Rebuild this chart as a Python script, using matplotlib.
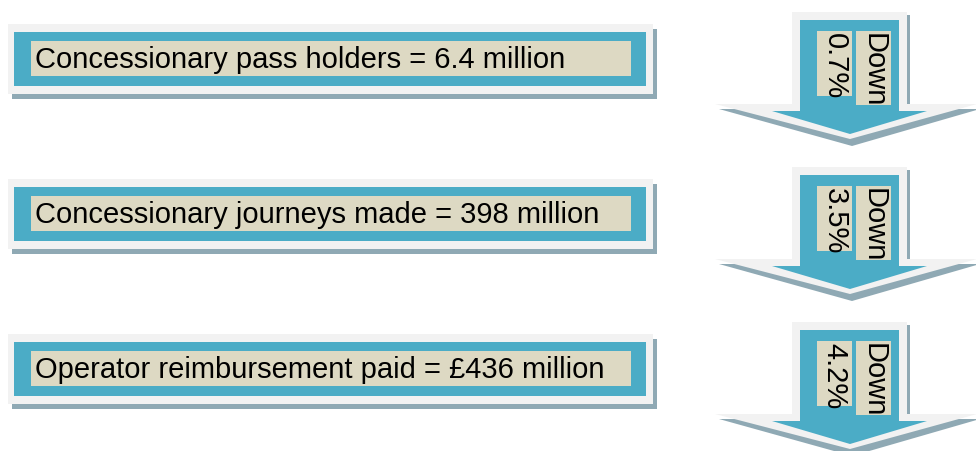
import matplotlib.pyplot as plt
from matplotlib.patches import Rectangle, Polygon

plt.rcParams['font.family'] = ['Liberation Sans', 'DejaVu Sans']

# data
labels = ['Concessionary pass holders', 'Concessionary journeys made',
          'Operator reimbursement paid']
values = ['6.4 million', '398 million', '\u00a3436 million']
changes = ['0.7%', '3.5%', '4.2%']
direction = ['Down', 'Down', 'Down']

BLUE = '#4BACC6'
BEIGE = '#DDD9C3'
FRAME = '#F2F2F2'
SHADOW = '#8FA9B4'

W, H = 976, 452
fig = plt.figure(figsize=(W / 100, H / 100), dpi=100)
ax = fig.add_axes([0, 0, 1, 1])
ax.set_xlim(0, W)
ax.set_ylim(H, 0)
ax.axis('off')

STEP = 155
for i, (lab, val, chg, d) in enumerate(zip(labels, values, changes, direction)):
    y0 = 25 + i * STEP
    # left text box: shadow, frame, blue band, beige panel
    ax.add_patch(Rectangle((12, y0 + 5), 645, 70, color=SHADOW, lw=0))
    ax.add_patch(Rectangle((8, y0), 645, 70, color=FRAME, lw=0))
    ax.add_patch(Rectangle((14, y0 + 8), 632, 54, color=BLUE, lw=0))
    ax.add_patch(Rectangle((31, y0 + 17), 600, 35, color=BEIGE, lw=0))
    ax.text(35, y0 + 35, f'{lab} = {val}', fontsize=21, va='center',
            ha='left', color='black')

    # arrow on the right
    a0 = 13 + i * STEP
    # shadow
    ax.add_patch(Rectangle((796, a0 + 3), 114, 95, color=SHADOW, lw=0))
    ax.add_patch(Polygon([(719, a0 + 97), (980, a0 + 97), (852, a0 + 134)],
                         closed=True, color=SHADOW, lw=0))
    # light frame
    ax.add_patch(Rectangle((792, a0), 115, 93, color=FRAME, lw=0))
    ax.add_patch(Polygon([(715, a0 + 92), (977, a0 + 92), (850, a0 + 127)],
                         closed=True, color=FRAME, lw=0))
    # blue arrow
    ax.add_patch(Rectangle((800, a0 + 8), 99, 92, color=BLUE, lw=0))
    ax.add_patch(Polygon([(772, a0 + 99), (927, a0 + 99), (850, a0 + 122)],
                         closed=True, color=BLUE, lw=0))
    # labels
    ax.add_patch(Rectangle((817, a0 + 19), 35, 65, color=BEIGE, lw=0))
    ax.add_patch(Rectangle((856, a0 + 19), 35, 74, color=BEIGE, lw=0))
    ax.text(834.5, a0 + 20, chg, fontsize=21, rotation=270,
            ha='center', va='top', rotation_mode='default')
    ax.text(873.5, a0 + 20, d, fontsize=21, rotation=270,
            ha='center', va='top', rotation_mode='default')

fig.savefig('out.png', dpi=100, facecolor='white')
